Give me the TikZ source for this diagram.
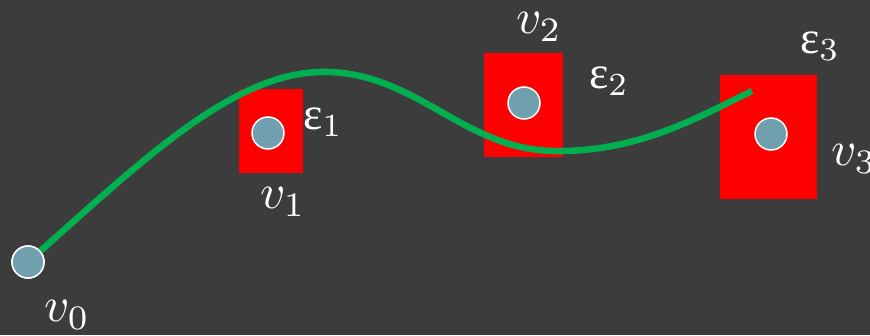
\documentclass[tikz,border=0pt]{standalone}
\usepackage{fontspec}
\newfontfamily\epsfont{Liberation Serif}
\definecolor{bgc}{RGB}{60,60,60}
\definecolor{boxred}{RGB}{255,0,0}
\definecolor{dotc}{RGB}{112,160,174}
\definecolor{pathg}{RGB}{0,176,80}
\tikzset{
  tol/.style={fill=boxred, draw=none},
  vert/.style={circle, fill=dotc, draw=white, line width=1.5pt, minimum size=32pt, inner sep=0pt},
  lbl/.style={text=white, scale=4.9, inner sep=0pt},
  elbl/.style={text=white, scale=4.6, inner sep=0pt},
  traj/.style={draw=pathg, line width=6.5pt}
}
\begin{document}
\begin{tikzpicture}[x=1pt, y=-1pt]
\useasboundingbox[fill=bgc] (0,0) rectangle (870,335);
% tolerance boxes
\path[tol] (239,89) rectangle (303,173);
\path[tol] (484,53) rectangle (563,157);
\path[tol] (720,75) rectangle (817,199);
% trajectory
\coordinate (tend) at (752,91);
\node[vert] (v0) at (28,262) {};
\draw[traj] (v0.center) .. controls (140,163) and (235,68) .. (330,72)
  .. controls (420,76) and (465,150) .. (555,151)
  .. controls (640,152) and (700,116) .. (tend);
\node[vert] at (28,262) {};
\node[vert] (v1) at (268,133) {};
\node[vert] (v2) at (524,103) {};
\node[vert] (v3) at (771,134) {};
% labels
\node[lbl] (l0) at (67,315) {$v_0$};
\node[lbl] (l1) at (283,202) {$v_1$};
\node[lbl] (l2) at (539,27) {$v_2$};
\node[lbl] (l3) at (854,159) {$v_3$};
\node[elbl] (e1) at (323,122) {${\hbox{\epsfont ε}}_1$};
\node[elbl] (e2) at (609,81) {${\hbox{\epsfont ε}}_2$};
\node[elbl] (e3) at (820,46) {${\hbox{\epsfont ε}}_3$};
\end{tikzpicture}
\end{document}
